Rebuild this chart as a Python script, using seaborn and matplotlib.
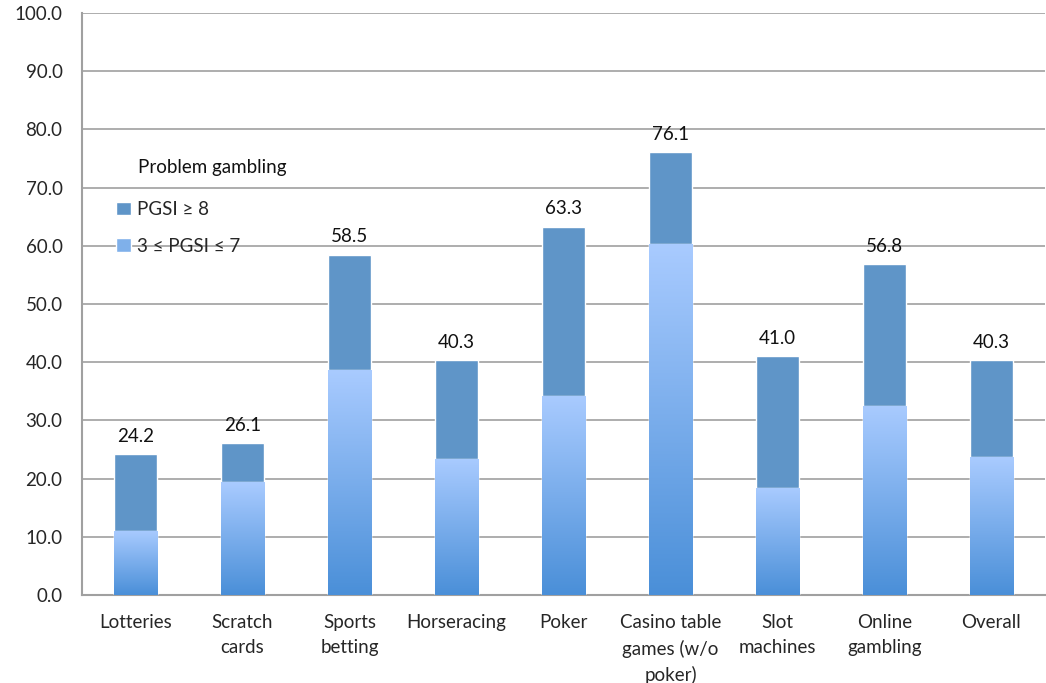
import numpy as np
import pandas as pd
import matplotlib
matplotlib.use("Agg")
import matplotlib.pyplot as plt
import seaborn as sns
from matplotlib.colors import LinearSegmentedColormap

categories = ["Lotteries", "Scratch\ncards", "Sports\nbetting", "Horseracing", "Poker",
              "Casino table\ngames (w/o\npoker)", "Slot\nmachines", "Online\ngambling", "Overall"]
moderate = [11.0, 19.4, 38.6, 23.4, 34.2, 60.3, 18.4, 32.5, 23.7]   # 3 <= PGSI <= 7
totals = [24.2, 26.1, 58.5, 40.3, 63.3, 76.1, 41.0, 56.8, 40.3]     # total incl. PGSI >= 8
yticks = [0, 10, 20, 30, 40, 50, 60, 70, 80, 90, 100]

sns.set_style("white")
plt.rcParams['font.family'] = ['Lato', 'DejaVu Sans']
FS = 13.5

df = pd.DataFrame({"cat": categories, "moderate": moderate, "total": totals})

fig = plt.figure(figsize=(10.46, 6.83), dpi=100)
ax = fig.add_axes([0.0784, 0.1288, 0.9206, 0.8522])

dark = "#5f95c8"
sns.barplot(data=df, x="cat", y="total", color=dark, saturation=1, width=0.41, ax=ax,
            label="PGSI \u2265 8", zorder=3)
n_top = len(ax.patches)
sns.barplot(data=df, x="cat", y="moderate", color="#7fb0ea", saturation=1, width=0.41, ax=ax,
            label="3 \u2264 PGSI \u2264 7", zorder=4)

cmap = LinearSegmentedColormap.from_list("g", ["#4a8fd8", "#a9cbff"])
grad = np.linspace(0, 1, 256).reshape(-1, 1)
for p in ax.patches[n_top:]:
    x0, y0 = p.get_x(), p.get_y()
    w, h = p.get_width(), p.get_height()
    im = ax.imshow(grad, extent=[x0, x0 + w, y0, y0 + h], origin="lower", cmap=cmap,
                   aspect="auto", zorder=5)
    im.set_clip_path(p)

for i, t in enumerate(totals):
    ax.text(i, t + 1.6, f"{t:.1f}", ha="center", va="bottom", fontsize=FS, color="#111111")

ax.set_xlim(-0.5, len(categories) - 0.5)
ax.set_ylim(0, 100)
ax.set_yticks(yticks)
ax.set_yticklabels([f"{v:.1f}" for v in yticks], fontsize=FS)
ax.set_xticks(range(len(categories)))
ax.set_xticklabels(categories, fontsize=FS, linespacing=1.55)
ax.set_xticks(np.arange(0.5, len(categories) - 0.5, 1), minor=True)
ax.tick_params(axis="x", which="major", length=0, pad=14)
ax.tick_params(axis="x", which="minor", length=6, color="#a0a0a0", width=1.2, direction="out")
ax.tick_params(axis="y", length=6, color="#a0a0a0", width=1.2, direction="out", pad=8)
ax.set_xlabel("")
ax.set_ylabel("")
ax.yaxis.grid(True, color="#a0a0a0", linewidth=1.2, zorder=0)
ax.set_axisbelow(True)
for s in ["top", "right"]:
    ax.spines[s].set_visible(False)
for s in ["left", "bottom"]:
    ax.spines[s].set_color("#a0a0a0")
    ax.spines[s].set_linewidth(1.5)

h, l = ax.get_legend_handles_labels()
leg = ax.legend(h, l, loc="upper left", bbox_to_anchor=(0.028, 0.69),
                frameon=False, fontsize=FS, handlelength=0.75, handleheight=0.75,
                handletextpad=0.35, labelspacing=1.05, borderaxespad=0)
ax.text(0.058, 0.734, "Problem gambling", transform=ax.transAxes, ha="left", va="center",
        fontsize=FS, color="#111111")

fig.savefig("out.png", dpi=100)
